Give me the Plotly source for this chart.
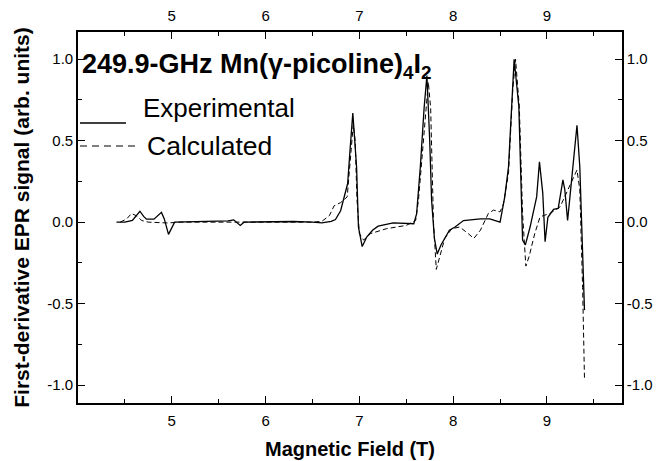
import plotly.graph_objects as go

# ---- data ----
exp_field = [4.41, 4.50, 4.58, 4.62, 4.66, 4.70, 4.73, 4.81, 4.89, 4.92, 4.965, 5.03,
             5.2, 5.4, 5.6, 5.66, 5.73, 5.77, 6.0, 6.3, 6.5, 6.6, 6.7, 6.745, 6.8,
             6.83, 6.875, 6.90, 6.93, 6.97, 6.99, 7.03, 7.08, 7.14, 7.2, 7.36, 7.5,
             7.58, 7.61, 7.65, 7.69, 7.72, 7.75, 7.77, 7.80, 7.83, 7.87, 7.915, 7.96,
             8.02, 8.11, 8.29, 8.39, 8.5, 8.55, 8.59, 8.62, 8.65, 8.70, 8.72, 8.74,
             8.77, 8.82, 8.89, 8.92, 8.955, 8.98, 9.01, 9.07, 9.12, 9.17, 9.19, 9.22,
             9.245, 9.32, 9.35, 9.37, 9.39, 9.40]
exp_signal = [0.0, 0.0, 0.01, 0.04, 0.067, 0.035, 0.018, 0.018, 0.06, 0.02, -0.075, 0.0,
              0.003, 0.005, 0.008, 0.014, -0.02, 0.0, 0.002, 0.004, 0.0, -0.005, 0.005, 0.016, 0.07,
              0.135, 0.237, 0.44, 0.67, 0.34, -0.03, -0.15, -0.09, -0.05, -0.025, -0.005, -0.008,
              -0.01, 0.05, 0.34, 0.70, 0.90, 0.50, 0.135, -0.10, -0.196, -0.14, -0.09, -0.05,
              -0.03, 0.01, 0.02, 0.02, 0.0, 0.155, 0.34, 0.71, 1.0, 0.71, 0.30, -0.11,
              -0.14, -0.03, 0.155, 0.37, 0.18, -0.12, 0.03, 0.078, 0.084, 0.26, 0.20, 0.01,
              0.155, 0.595, 0.34, 0.0, -0.31, -0.54]

calc_field = [4.45, 4.52, 4.57, 4.62, 4.68, 4.75, 4.95, 5.1, 6.0, 6.5, 6.6, 6.68, 6.73,
              6.8, 6.87, 6.90, 6.935, 6.955, 6.975, 7.0, 7.045, 7.12, 7.29, 7.5, 7.6,
              7.63, 7.68, 7.735, 7.76, 7.79, 7.82, 7.86, 7.91, 7.985, 8.07, 8.16, 8.22,
              8.29, 8.375, 8.43, 8.5, 8.535, 8.59, 8.635, 8.665, 8.705, 8.74, 8.775,
              8.81, 8.87, 8.925, 8.96, 9.03, 9.14, 9.245, 9.32, 9.35, 9.38, 9.40]
calc_signal = [0.0, 0.02, 0.053, 0.04, 0.01, 0.0, -0.005, 0.0, 0.0, 0.0, 0.005, 0.04, 0.10,
               0.12, 0.155, 0.34, 0.60, 0.50, 0.135, -0.07, -0.11, -0.07, -0.04, -0.02, 0.01,
               0.135, 0.50, 0.86, 0.70, 0.0, -0.29, -0.20, -0.10, -0.04, -0.03, -0.07, -0.10,
               -0.05, 0.053, 0.074, 0.063, 0.11, 0.30, 0.81, 1.0, 0.71, 0.05, -0.27,
               -0.21, -0.07, 0.03, 0.04, 0.053, 0.094, 0.22, 0.32, 0.20, -0.40, -0.96]

x_tickvals = [5, 6, 7, 8, 9]
x_ticktext = ["5", "6", "7", "8", "9"]
y_tickvals = [-1.0, -0.5, 0.0, 0.5, 1.0]
y_ticktext = ["-1.0", "-0.5", "0.0", "0.5", "1.0"]

FONT = "Liberation Sans, Arial, sans-serif"

fig = go.Figure()
fig.add_trace(go.Scatter(x=exp_field, y=exp_signal, mode="lines",
                         line=dict(color="black", width=1.3), name="Experimental",
                         showlegend=False))
fig.add_trace(go.Scatter(x=calc_field, y=calc_signal, mode="lines", xaxis="x2", yaxis="y2",
                         line=dict(color="black", width=1.0, dash="5px,3px"), name="Calculated",
                         showlegend=False))

common_x = dict(range=[4.0, 9.8], tickvals=x_tickvals, ticktext=x_ticktext,
                ticks="inside", ticklen=7, tickwidth=1.3, tickcolor="black",
                showline=True, linecolor="black", linewidth=1.6, showgrid=False,
                zeroline=False, automargin=False, ticklabelstandoff=3,
                tickfont=dict(family=FONT, size=15, color="black"),
                minor=dict(ticks="inside", ticklen=4, tickwidth=1.2, tickcolor="black",
                           dtick=0.5, tick0=0.5, showgrid=False))
common_y = dict(range=[-1.11, 1.167], tickvals=y_tickvals, ticktext=y_ticktext,
                ticks="inside", ticklen=7, tickwidth=1.3, tickcolor="black",
                showline=True, linecolor="black", linewidth=1.6, showgrid=False,
                zeroline=False, automargin=False,
                tickfont=dict(family=FONT, size=15, color="black"),
                minor=dict(ticks="inside", ticklen=4, tickwidth=1.2, tickcolor="black",
                           dtick=0.25, tick0=0.25, showgrid=False))

fig.update_layout(
    width=659, height=461,
    margin=dict(l=78, r=37, t=32, b=58),
    paper_bgcolor="white", plot_bgcolor="white",
    xaxis=dict(**common_x, side="bottom",
               title=dict(text="<b>Magnetic Field (T)</b>", standoff=14,
                          font=dict(family=FONT, size=20, color="black"))),
    xaxis2=dict(**common_x, side="top", overlaying="x", matches="x"),
    yaxis=dict(**common_y, side="left",
               title=dict(text="<b>First-derivative EPR signal (arb. units)</b>", standoff=12,
                          font=dict(family=FONT, size=21, color="black"))),
    yaxis2=dict(**common_y, side="right", overlaying="y", matches="y"),
)

def py(p):
    return (403 - p) / 371.0

def px(p):
    return (p - 78) / 544.0

fig.add_annotation(text="<b>249.9-GHz Mn(γ-picoline)<sub>4</sub>I<sub>2</sub></b>",
                   xref="paper", yref="paper", x=px(80), y=py(66), xanchor="left",
                   yanchor="middle", showarrow=False,
                   font=dict(family=FONT, size=27, color="black"))
fig.add_annotation(text="Experimental", xref="paper", yref="paper", x=px(141), y=py(108),
                   xanchor="left", yanchor="middle", showarrow=False,
                   font=dict(family=FONT, size=26, color="black"))
fig.add_annotation(text="Calculated", xref="paper", yref="paper", x=px(145), y=py(146),
                   xanchor="left", yanchor="middle", showarrow=False,
                   font=dict(family=FONT, size=26.5, color="black"))
fig.add_shape(type="line", xref="paper", yref="paper", x0=px(80), x1=px(126),
              y0=py(123), y1=py(123), line=dict(color="black", width=1.3))
fig.add_shape(type="line", xref="paper", yref="paper", x0=px(80), x1=px(137),
              y0=py(146), y1=py(146), line=dict(color="black", width=1.2, dash="7px,5px"))

fig.write_html("out.html", config={"displayModeBar": False},
               post_script="document.body.style.margin='0';document.body.style.padding='0';")
